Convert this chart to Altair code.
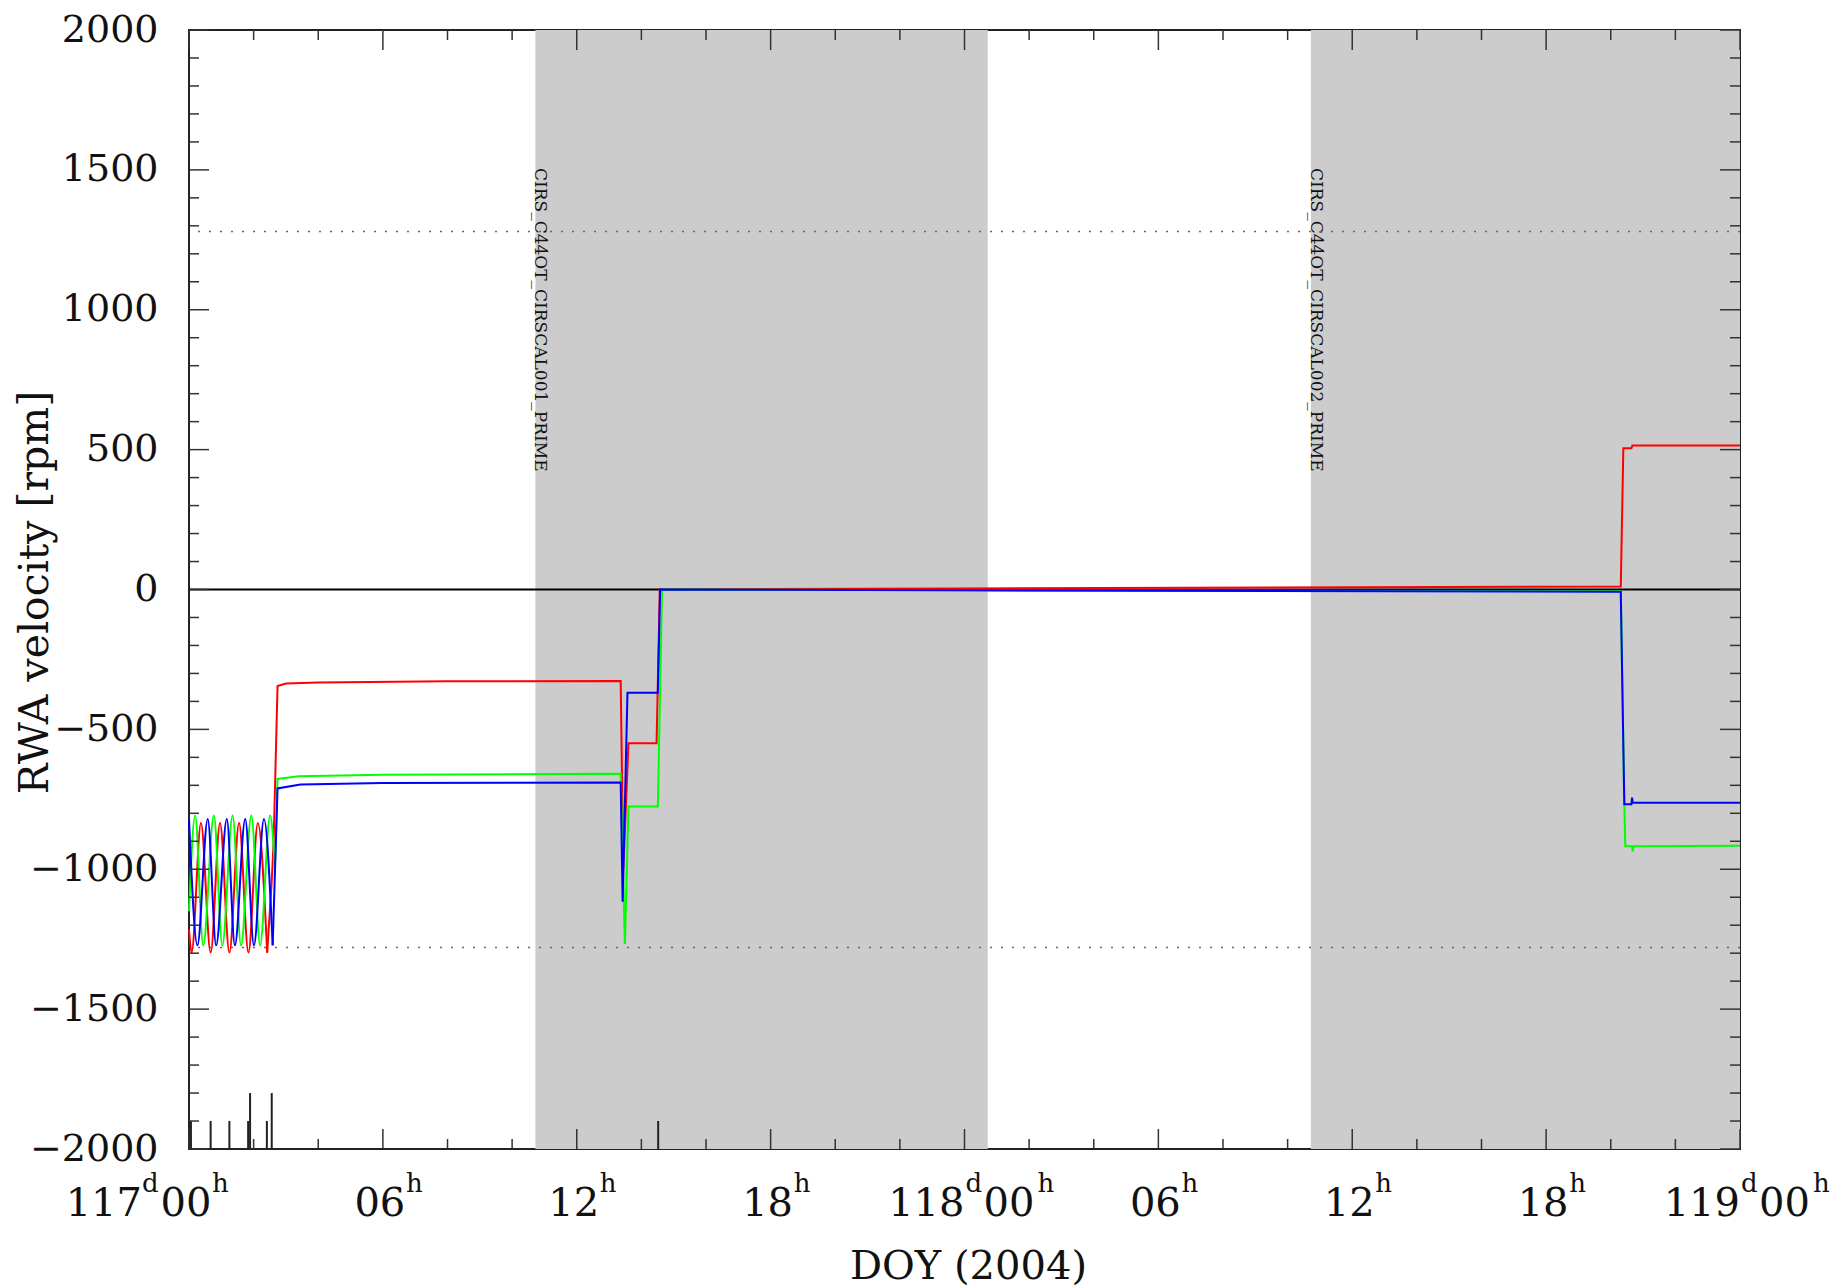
import altair as alt
import pandas as pd

W, H = 1551, 1119
FONT = "DejaVu Serif"
INK = "#111111"

# ---------------- data (hours after 117d00h, DOY 2004; wheel speed in rpm) ----------------
red_osc_t = [0.00, 0.08, 0.37, 0.67, 0.96, 1.25, 1.55, 1.84, 2.13, 2.42]
red_osc_v = [-1215, -1298, -835, -1298, -835, -1298, -835, -1298, -835, -1298]
red_t = [2.42, 2.56, 2.62, 2.74, 3.0, 4.0, 8.0, 13.36, 13.44, 13.60, 14.47, 14.57, 24.0, 44.31, 44.39, 44.64, 44.67, 48.0]
red_v = [-1298, -1043, -900, -345, -336, -332, -328, -327, -1000, -550, -550, 0, 4, 11, 505, 505, 515, 515]

green_osc_t = [0.00, 0.19, 0.44, 0.77, 1.03, 1.35, 1.61, 1.93, 2.20, 2.51, 2.66]
green_osc_v = [-1150, -808, -1272, -808, -1272, -808, -1272, -808, -1272, -808, -1000]
green_t = [2.66, 2.74, 3.4, 6.0, 13.36, 13.49, 13.60, 14.51, 14.64, 24.0, 44.31, 44.42, 44.45, 44.66, 44.68, 44.70, 48.0]
green_v = [-1000, -677, -668, -662, -659, -1267, -776, -776, 0, -3, -6, -768, -918, -918, -936, -918, -916]

blue_osc_t = [0.00, 0.26, 0.58, 0.84, 1.17, 1.42, 1.74, 2.01, 2.32, 2.59]
blue_osc_v = [-820, -1272, -820, -1272, -820, -1272, -820, -1272, -820, -1272]
blue_t = [2.59, 2.74, 3.45, 6.0, 13.36, 13.42, 13.57, 14.51, 14.58, 24.0, 44.31, 44.42, 44.64, 44.66, 44.68, 48.0]
blue_v = [-1272, -711, -697, -692, -690, -1116, -369, -369, 0, -3, -8, -768, -768, -744, -762, -762]

shade_start = [10.72, 34.72]
shade_end = [24.72, 48.0]
shade_label = ["CIRS_C44OT_CIRSCAL001_PRIME", "CIRS_C44OT_CIRSCAL002_PRIME"]

limit_values = [1280, -1280]

event_t = [0.06, 0.67, 1.25, 1.83, 2.41, 1.89, 2.56, 14.52]
event_top = [-1900, -1900, -1900, -1900, -1900, -1800, -1800, -1900]

x_major = [0, 6, 12, 18, 24, 30, 36, 42, 48]
x_hh = ["00", "06", "12", "18", "00", "06", "12", "18", "00"]
x_day = ["117", "", "", "", "118", "", "", "", "119"]
x_kind = ["first", "h", "h", "h", "day", "h", "h", "h", "day"]
x_minor = [h for h in range(0, 49, 2) if h % 6 != 0]

y_major = list(range(-2000, 2001, 500))
y_minor = [v for v in range(-2000, 2001, 100) if v % 500 != 0]

# ---------------- encodings ----------------
xscale = alt.Scale(domain=[0, 48], nice=False, zero=False)
yscale = alt.Scale(domain=[-2000, 2000], nice=False, zero=False)
yaxis = alt.Axis(values=y_major, format="d", ticks=False, tickSize=0, domain=False, grid=False,
                 labelFont=FONT, labelFontSize=38, labelColor=INK, labelPadding=31, title=None)


def X(field):
    return alt.X(field, type="quantitative", scale=xscale, axis=None)


def Y(field):
    return alt.Y(field, type="quantitative", scale=yscale, axis=yaxis)


layers = []

# shaded observation windows
shade_df = pd.DataFrame({"start": shade_start, "end": shade_end, "label": shade_label})
layers.append(alt.Chart(shade_df).mark_rect(color="#cccccc", clip=True).encode(
    x=X("start"), x2="end"))
layers.append(alt.Chart(shade_df).mark_text(angle=90, align="left", baseline="alphabetic",
                                             font=FONT, fontSize=17, color=INK).encode(
    x=X("start"), y=alt.value(138), text="label"))

# limit lines and zero line
lim_df = pd.DataFrame({"v": limit_values})
layers.append(alt.Chart(lim_df).mark_rule(color="#b04a4a", strokeDash=[2, 9], strokeWidth=1.5).encode(
    y=Y("v")))
layers.append(alt.Chart(pd.DataFrame({"v": [0]})).mark_rule(color="#000000", strokeWidth=2).encode(
    y=Y("v")))

# event markers
ev_df = pd.DataFrame({"t": event_t, "base": [-2000] * len(event_t), "top": event_top})
layers.append(alt.Chart(ev_df).mark_rule(color="#222222", strokeWidth=2).encode(
    x=X("t"), y=Y("base"), y2="top"))

# wheel speed lines
for color, ot, ov, rt, rv in [("#ff0000", red_osc_t, red_osc_v, red_t, red_v),
                              ("#00ff00", green_osc_t, green_osc_v, green_t, green_v),
                              ("#0000ff", blue_osc_t, blue_osc_v, blue_t, blue_v)]:
    odf = pd.DataFrame({"t": ot, "v": ov})
    rdf = pd.DataFrame({"t": rt, "v": rv})
    layers.append(alt.Chart(odf).mark_line(color=color, strokeWidth=2, interpolate="monotone").encode(
        x=X("t"), y=Y("v")))
    layers.append(alt.Chart(rdf).mark_line(color=color, strokeWidth=2).encode(
        x=X("t"), y=Y("v")))

# inward ticks on all four sides
TK = "#333333"
xmaj_df = pd.DataFrame({"t": x_major})
xmin_df = pd.DataFrame({"t": x_minor})
ymaj_df = pd.DataFrame({"v": y_major})
ymin_df = pd.DataFrame({"v": y_minor})
for df, ln in [(xmaj_df, 20), (xmin_df, 10)]:
    layers.append(alt.Chart(df).mark_rule(color=TK, strokeWidth=1.5).encode(
        x=X("t"), y=alt.value(H), y2=alt.value(H - ln)))
    layers.append(alt.Chart(df).mark_rule(color=TK, strokeWidth=1.5).encode(
        x=X("t"), y=alt.value(0), y2=alt.value(ln)))
for df, ln in [(ymaj_df, 20), (ymin_df, 10)]:
    layers.append(alt.Chart(df).mark_rule(color=TK, strokeWidth=1.5).encode(
        y=Y("v"), x=alt.value(0), x2=alt.value(ln)))
    layers.append(alt.Chart(df).mark_rule(color=TK, strokeWidth=1.5).encode(
        y=Y("v"), x=alt.value(W), x2=alt.value(W - ln)))

# x tick labels  (day superscript d, hour superscript h)
xl_df = pd.DataFrame({"t": x_major, "hh": x_hh, "day": x_day, "kind": x_kind})
BASE_Y, SUP_Y = H + 67, H + 43
base_kw = dict(font=FONT, fontSize=40, color=INK, baseline="alphabetic")
sup_kw = dict(font=FONT, fontSize=26, color=INK, baseline="alphabetic")
hour_only = alt.Chart(xl_df).transform_filter("datum.kind != 'day'")
first = alt.Chart(xl_df).transform_filter("datum.kind == 'first'")
dayt = alt.Chart(xl_df).transform_filter("datum.kind == 'day'")
layers += [
    hour_only.mark_text(align="center", dx=-3, **base_kw).encode(x=X("t"), y=alt.value(BASE_Y), text="hh"),
    hour_only.mark_text(align="left", dx=23, **sup_kw).encode(x=X("t"), y=alt.value(SUP_Y), text=alt.value("h")),
    first.mark_text(align="right", dx=-47, **base_kw).encode(x=X("t"), y=alt.value(BASE_Y), text="day"),
    first.mark_text(align="left", dx=-47, **sup_kw).encode(x=X("t"), y=alt.value(SUP_Y), text=alt.value("d")),
    dayt.mark_text(align="right", dx=0, **base_kw).encode(x=X("t"), y=alt.value(BASE_Y), text="day"),
    dayt.mark_text(align="left", dx=1, **sup_kw).encode(x=X("t"), y=alt.value(SUP_Y), text=alt.value("d")),
    dayt.mark_text(align="left", dx=19, **base_kw).encode(x=X("t"), y=alt.value(BASE_Y), text="hh"),
    dayt.mark_text(align="left", dx=73, **sup_kw).encode(x=X("t"), y=alt.value(SUP_Y), text=alt.value("h")),
]

# axis titles
one = pd.DataFrame({"a": [0]})
layers.append(alt.Chart(one).mark_text(align="center", baseline="alphabetic", font=FONT, fontSize=40,
                                       color=INK).encode(
    x=alt.value(W / 2 + 4), y=alt.value(H + 130), text=alt.value("DOY (2004)")))
layers.append(alt.Chart(one).mark_text(align="center", baseline="alphabetic", angle=270, font=FONT,
                                       fontSize=41, color=INK).encode(
    x=alt.value(-141), y=alt.value(H / 2 + 3), text=alt.value("RWA velocity [rpm]")))

chart = alt.layer(*layers).properties(
    width=W, height=H,
    autosize=alt.AutoSizeParams(type="none"),
    padding={"left": 181, "top": 22, "right": 94, "bottom": 145},
    background="white",
).configure_view(stroke="#222222", strokeWidth=2)

chart.save("out.html", embed_options={"renderer": "svg", "actions": False})
